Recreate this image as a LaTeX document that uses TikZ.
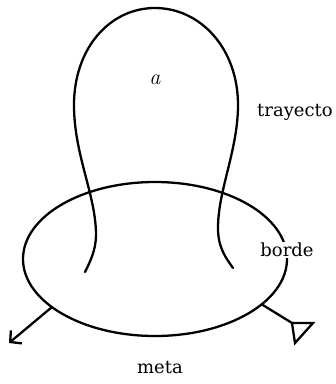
\documentclass[tikz,border=0pt]{standalone}
\usepackage{fontspec}
\setmainfont{DejaVu Serif}
\newfontfamily\lmfont{Latin Modern Roman}
\usepackage{tikz}
\usetikzlibrary{shapes.geometric, arrows.meta, positioning}

\begin{document}
\begin{tikzpicture}[x=1pt, y=-1pt,
      curve/.style={line width=2.3pt, line cap=round},
      lbl/.style={font=\fontsize{18}{21}\selectfont, inner sep=0pt},
    ]
      \useasboundingbox (0,0) rectangle (336,384);

      % rim of the region
      \node[ellipse, draw, curve, minimum width=264pt, minimum height=154pt, outer sep=0pt] (rim) at (155,259) {};

      % the path that loops out of the region
      \coordinate (startL) at (85,272);
      \coordinate (endR) at (233,268);
      \draw[curve] (startL) .. controls (90,262) and (96,250) .. (96,235)
        .. controls (96,195) and (74,155) .. (74,105)
        .. controls (74,48) and (110,8) .. (155,8)
        .. controls (200,8) and (238,48) .. (238,105)
        .. controls (238,150) and (218,190) .. (218,228)
        .. controls (218,248) and (226,258) .. (endR);

      % goal arrows
      \coordinate (tipL) at (9,343);
      \coordinate (goal) at (292,323);
      \draw[curve, -{Straight Barb[length=8pt, width=17pt, line width=2.3pt]}] (rim.205) -- (tipL);
      \draw[curve] (rim.337) -- (goal);
      \draw[curve, line join=miter] (goal) -- ++(21,0) -- ++(-18,20) -- cycle;

      % labels
      \node[lbl] (area) at (155,80) {\lmfont\itshape\fontsize{22}{24}\selectfont a};
      \node[lbl] (path) at (295,112) {trayecto};
      \node[lbl, fill=white, inner sep=1pt] (edge) at (287,250) {borde};
      \node[lbl] (meta) at (160,368) {meta};
\end{tikzpicture}
\end{document}
